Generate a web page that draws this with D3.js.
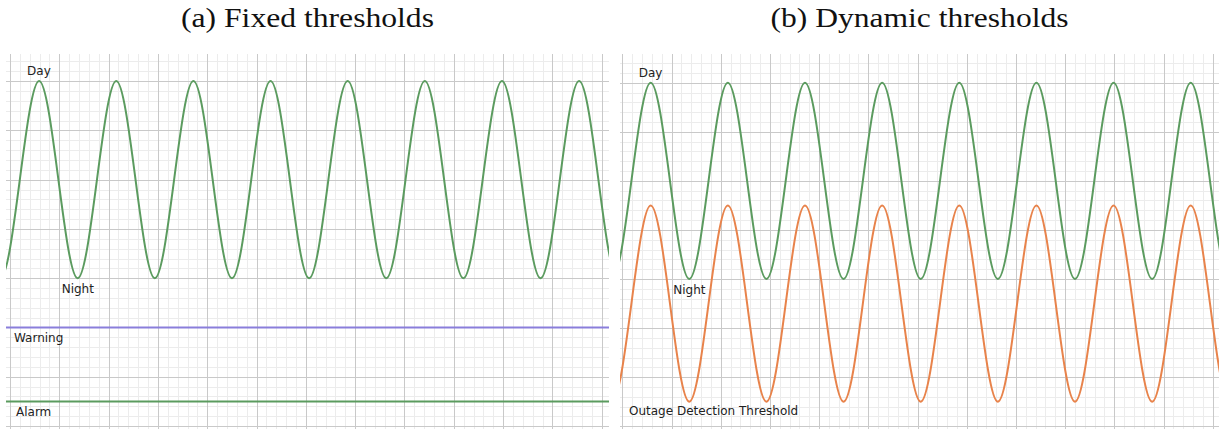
<!DOCTYPE html>
<html>
<head>
<meta charset="utf-8">
<script src="https://cdn.jsdelivr.net/npm/d3@7"></script>
<style>
  body { margin: 0; background: #fff; }
  svg { display: block; }
</style>
</head>
<body>
<script>
// day peaks (14h) and night troughs (2h);
// first and last points sit just outside the visible window
var hours = [-10, 2, 14, 26, 38, 50, 62, 74, 86, 98, 110, 122, 134, 146, 158, 170, 182, 194, 206]
var traffic = [700, 300, 700, 300, 700, 300, 700, 300, 700, 300, 700, 300, 700, 300, 700, 300, 700, 300, 700]
var outage = [450, 50, 450, 50, 450, 50, 450, 50, 450, 50, 450, 50, 450, 50, 450, 50, 450, 50, 450]
var warningLevel = 200
var alarmLevel = 50
var titles = ['(a) Fixed thresholds', '(b) Dynamic thresholds']

var green = '#5b9b5f'
var orange = '#e8834b'
var purple = '#8a7edb'
var textColor = '#222'
var majorGrid = '#c9c9c9'
var minorGrid = '#ececec'

var svg = d3.select('body').append('svg')
    .attr('width', 1219)
    .attr('height', 429)

var panels = [
    { left: 6, right: 609, time: [3.7, 191.3], value: [-6, 755], gridX: 10, cell: 49.31, dynamic: false, titleWidth: 253 },
    { left: 620, right: 1219, time: [4.45, 190.8], value: [-5.7, 758.5], gridX: 622.3, cell: 49.2, dynamic: true, titleWidth: 298 }
]

function label(g, x, y, txt) {
    g.append('text')
        .attr('x', x)
        .attr('y', y)
        .attr('fill', textColor)
        .style('font-family', 'DejaVu Sans')
        .style('font-size', '12px')
        .text(txt)
}

panels.forEach(function (p, i) {
    var x = d3.scaleLinear().domain(p.time).range([p.left, p.right])
    var y = d3.scaleLinear().domain(p.value).range([429, 54])
    var gx = d3.scaleLinear().domain([0, 1]).range([p.gridX, p.gridX + p.cell])

    svg.append('clipPath').attr('id', 'clip' + i)
        .append('rect')
        .attr('x', p.left)
        .attr('y', 54)
        .attr('width', p.right - p.left)
        .attr('height', 375)

    var plot = svg.append('g').attr('clip-path', 'url(#clip' + i + ')')

    // grid: minor every fifth of a cell, then major on top
    var cols = d3.range(-5, 70).filter(function (k) {
        var px = gx(k / 5)
        return px >= p.left - 1 && px <= p.right + 1
    })
    var rows = d3.range(-20, 780, 20)

    ;[false, true].forEach(function (major) {
        var col = major ? majorGrid : minorGrid
        cols.filter(function (k) { return (k % 5 === 0) === major }).forEach(function (k) {
            var px = Math.round(gx(k / 5)) + 0.5
            plot.append('line')
                .attr('x1', px).attr('x2', px)
                .attr('y1', 54).attr('y2', 429)
                .attr('stroke', col)
                .attr('stroke-width', 1)
        })
        rows.filter(function (v) { return (v % 100 === 0) === major }).forEach(function (v) {
            var py = Math.round(y(v)) + 0.5
            plot.append('line')
                .attr('x1', p.left).attr('x2', p.right)
                .attr('y1', py).attr('y2', py)
                .attr('stroke', col)
                .attr('stroke-width', 1)
        })
    })

    var line = d3.line()
        .x(function (d) { return x(d[0]) })
        .y(function (d) { return y(d[1]) })
        .curve(d3.curveMonotoneX)

    if (p.dynamic) {
        plot.append('path')
            .attr('d', line(d3.zip(hours, outage)))
            .attr('fill', 'none')
            .attr('stroke', orange)
            .attr('stroke-width', 2)
    } else {
        plot.append('line')
            .attr('x1', p.left).attr('x2', p.right)
            .attr('y1', y(warningLevel)).attr('y2', y(warningLevel))
            .attr('stroke', purple)
            .attr('stroke-width', 2)
        plot.append('line')
            .attr('x1', p.left).attr('x2', p.right)
            .attr('y1', y(alarmLevel)).attr('y2', y(alarmLevel))
            .attr('stroke', green)
            .attr('stroke-width', 2)
    }

    plot.append('path')
        .attr('d', line(d3.zip(hours, traffic)))
        .attr('fill', 'none')
        .attr('stroke', green)
        .attr('stroke-width', 2)

    // annotations next to the first day peak / night trough
    label(svg, x(hours[2]) - 12, y(traffic[2]) - 6, 'Day')
    label(svg, x(hours[3]) - 16, y(traffic[3]) + 15, 'Night')
    if (p.dynamic) {
        label(svg, p.left + 9, y(outage[1]) + 13.5, 'Outage Detection Threshold')
    } else {
        label(svg, p.left + 8, y(warningLevel) + 14.5, 'Warning')
        label(svg, p.left + 10, y(alarmLevel) + 15, 'Alarm')
    }

    svg.append('text')
        .attr('x', (p.left + p.right) / 2)
        .attr('y', 27)
        .attr('text-anchor', 'middle')
        .attr('fill', '#111')
        .attr('textLength', p.titleWidth)
        .attr('lengthAdjust', 'spacingAndGlyphs')
        .style('font-family', 'Liberation Serif')
        .style('font-size', '27px')
        .text(titles[i])
})
</script>
</body>
</html>
